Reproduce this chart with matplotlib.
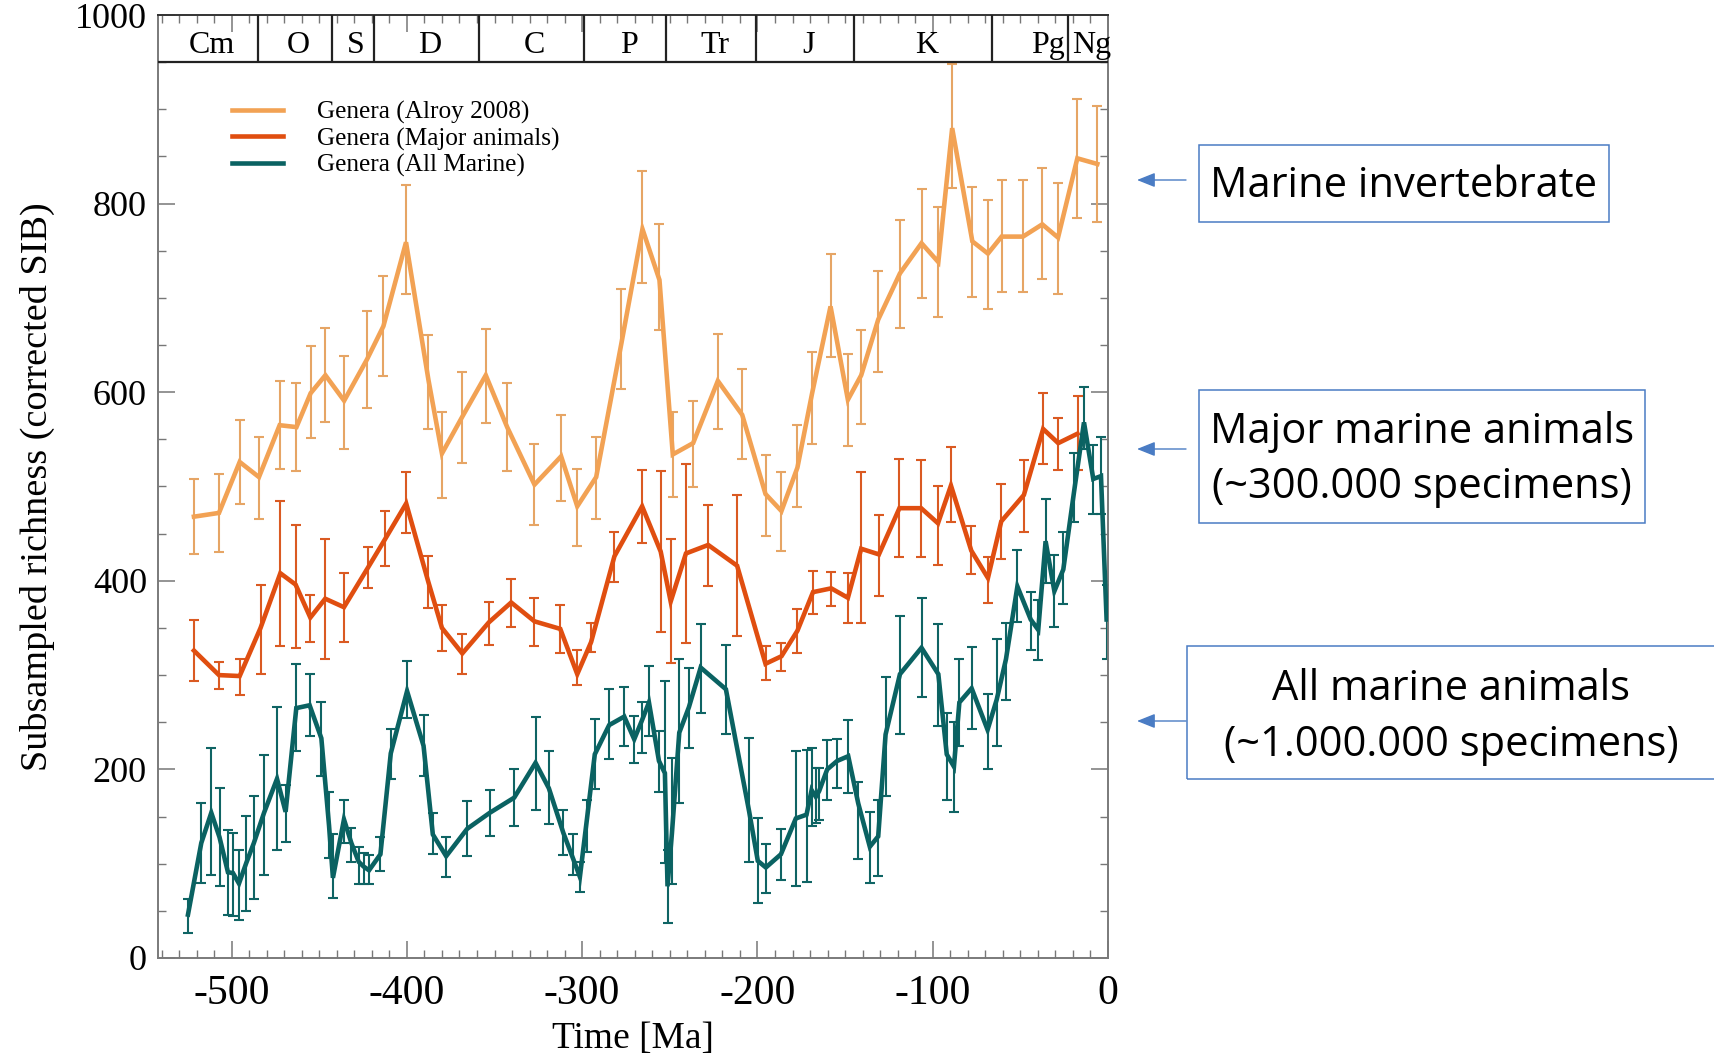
import numpy as np
import matplotlib
matplotlib.use('Agg')
import matplotlib.pyplot as plt
from matplotlib.patches import Rectangle, FancyArrowPatch
from matplotlib.ticker import MultipleLocator

plt.rcParams['font.family'] = ['Liberation Serif', 'DejaVu Serif']
plt.rcParams['axes.unicode_minus'] = False

# --- data (time in Ma, richness) ---
# Genera (Alroy 2008)
alroy_t  = [-521.5, -507.2, -495.4, -484.4, -472.6, -463.0, -454.9, -446.5, -435.8, -422.7,
            -413.4, -400.5, -387.7, -380.0, -368.4, -355.0, -342.8, -327.2, -312.0, -302.8,
            -292.0, -277.6, -265.6, -255.9, -248.3, -236.7, -222.6, -208.7, -195.4, -186.3,
            -177.2, -168.8, -158.3, -148.4, -140.8, -131.1, -118.7, -106.4, -96.8, -88.9,
            -77.4, -68.5, -60.7, -48.5, -37.5, -28.5, -17.5, -6.1]
alroy_y  = [468, 472, 526, 510, 565, 563, 599, 618, 591, 635,
            670, 759, 613, 535, 574, 618, 563, 502, 532, 479,
            510, 652, 773, 719, 534, 546, 612, 576, 492, 474,
            520, 599, 691, 592, 618, 677, 726, 758, 738, 880,
            760, 747, 765, 765, 778, 764, 848, 842]
alroy_lo = [428, 431, 481, 466, 519, 516, 551, 568, 540, 583,
            617, 704, 561, 488, 525, 567, 516, 459, 485, 437,
            466, 603, 716, 666, 489, 499, 561, 529, 448, 432,
            478, 545, 637, 543, 566, 621, 668, 700, 680, 817,
            701, 688, 706, 706, 720, 704, 785, 780]
alroy_hi = [508, 513, 571, 552, 612, 610, 649, 668, 638, 686,
            723, 820, 661, 579, 621, 667, 610, 545, 576, 519,
            552, 709, 835, 778, 579, 591, 662, 625, 533, 515,
            565, 643, 747, 640, 666, 729, 783, 816, 796, 948,
            818, 804, 825, 825, 838, 822, 911, 904]

# Genera (Major animals)
major_t  = [-521.5, -507.2, -495.4, -483.5, -472.2, -463.5, -455.1, -446.6, -435.9, -422.2,
            -412.5, -400.4, -387.8, -380.0, -368.4, -353.2, -340.5, -327.2, -312.5, -302.8,
            -294.9, -281.6, -265.8, -255.2, -249.5, -240.8, -228.1, -211.6, -195.4, -186.3,
            -177.2, -168.3, -157.9, -148.4, -140.8, -130.7, -119.0, -106.6, -97.0, -89.6,
            -78.0, -68.5, -60.9, -48.0, -37.0, -28.4, -17.4]
major_y  = [326, 300, 299, 350, 408, 396, 361, 381, 372, 414,
            444, 482, 399, 350, 323, 356, 377, 357, 349, 301,
            335, 426, 479, 431, 378, 429, 438, 416, 312, 320,
            347, 388, 392, 382, 434, 428, 477, 477, 461, 501,
            432, 403, 463, 491, 561, 546, 556]
major_lo = [294, 285, 279, 301, 331, 329, 335, 317, 335, 392,
            416, 451, 371, 326, 301, 332, 351, 331, 323, 290,
            324, 399, 440, 346, 313, 334, 394, 341, 295, 304,
            323, 365, 373, 355, 355, 384, 425, 425, 417, 462,
            407, 376, 423, 452, 524, 518, 517]
major_hi = [358, 314, 317, 396, 485, 459, 385, 444, 408, 436,
            474, 515, 426, 374, 344, 378, 402, 382, 374, 327,
            355, 452, 518, 516, 444, 524, 480, 491, 331, 334,
            370, 410, 409, 408, 515, 470, 529, 528, 501, 542,
            458, 425, 503, 528, 599, 573, 596]

# Genera (All Marine)
marine_t  = [-524.9, -517.3, -511.6, -506.9, -502.1, -499.2, -495.8, -491.6, -487.3, -481.5,
             -474.1, -469.2, -463.1, -455.5, -448.8, -444.4, -442.2, -435.9, -431.7, -427.5,
             -424.7, -421.6, -415.1, -409.2, -399.9, -390.5, -385.2, -377.6, -365.6, -352.7,
             -338.8, -326.6, -319.0, -310.8, -305.1, -301.3, -297.1, -292.8, -284.6, -276.0,
             -270.3, -266.1, -261.9, -256.2, -252.8, -251.3, -248.8, -244.6, -239.1, -232.4,
             -218.0, -204.7, -199.8, -195.2, -186.6, -178.1, -172.0, -169.1, -166.7, -164.8,
             -160.2, -154.5, -148.2, -142.5, -135.9, -131.1, -126.9, -118.7, -106.4, -96.8,
             -92.0, -87.9, -84.8, -77.8, -68.7, -63.5, -58.2, -51.7, -44.1, -39.8,
             -35.6, -30.6, -25.5, -19.4, -13.7, -8.4, -4.0, -0.8]
marine_y  = [46, 122, 154, 128, 91, 90, 79, 101, 122, 154,
             190, 155, 265, 268, 233, 140, 85, 147, 122, 102,
             97, 93, 110, 217, 283, 225, 131, 108, 137, 154,
             170, 207, 180, 133, 105, 86, 150, 216, 247, 256,
             232, 251, 271, 209, 196, 76, 132, 239, 266, 308,
             285, 155, 103, 96, 110, 148, 152, 178, 171, 177,
             200, 209, 214, 164, 118, 129, 237, 301, 329, 301,
             216, 203, 271, 286, 242, 274, 317, 394, 359, 348,
             442, 389, 412, 494, 568, 508, 511, 359]
marine_lo = [26, 80, 88, 76, 46, 45, 40, 50, 63, 88,
             115, 123, 219, 235, 193, 106, 64, 122, 102, 79,
             78, 78, 92, 190, 254, 193, 110, 86, 108, 129,
             140, 157, 142, 109, 88, 70, 112, 179, 211, 225,
             207, 217, 235, 176, 101, 37, 79, 164, 223, 260,
             238, 102, 58, 69, 83, 76, 81, 140, 143, 146,
             168, 180, 175, 105, 80, 87, 172, 238, 277, 246,
             168, 155, 225, 243, 200, 225, 274, 356, 327, 316,
             398, 351, 375, 462, 540, 471, 471, 317]
marine_hi = [63, 164, 223, 180, 136, 133, 115, 151, 172, 215,
             266, 183, 312, 301, 272, 176, 132, 168, 138, 118,
             111, 109, 128, 243, 315, 258, 154, 128, 166, 178,
             200, 256, 220, 157, 131, 102, 168, 253, 285, 287,
             257, 271, 310, 241, 294, 115, 212, 317, 308, 354,
             332, 233, 148, 121, 137, 219, 221, 223, 201, 201,
             231, 232, 252, 187, 155, 168, 298, 363, 382, 354,
             260, 250, 317, 330, 280, 338, 355, 433, 388, 380,
             487, 427, 452, 536, 606, 544, 552, 396]

# geological periods (boundaries in Ma) and their labels
period_edges = [-541, -485, -443, -419, -359, -299, -252, -201, -145, -66, -23, 0]
period_names = ['Cm', 'O', 'S', 'D', 'C', 'P', 'Tr', 'J', 'K', 'Pg', 'Ng']

series = [
    ('Genera (Alroy 2008)', alroy_t, alroy_y, alroy_lo, alroy_hi, '#F2A254', '#E6A565'),
    ('Genera (Major animals)', major_t, major_y, major_lo, major_hi, '#E04E10', '#DA5A22'),
    ('Genera (All Marine)', marine_t, marine_y, marine_lo, marine_hi, '#0A6262', '#0F6464'),
]

W, H = 1714, 1057
fig = plt.figure(figsize=(W / 100, H / 100), dpi=100)
ax = fig.add_axes([158 / W, 1 - 958 / H, 950 / W, 943 / H])

for name, t, y, lo, hi, c, ec in series:
    t = np.array(t); y = np.array(y); lo = np.array(lo); hi = np.array(hi)
    ax.errorbar(t, y, yerr=[y - lo, hi - y], fmt='none', ecolor=ec,
                elinewidth=1.5, capsize=3.3, capthick=1.5, zorder=2)
    ax.plot(t, y, color=c, lw=3.3, label=name, zorder=3, solid_joinstyle='miter')

ax.set_xlim(-542, 0)
ax.set_ylim(0, 1000)

# period band at the top
ax.axhline(950, color='#222222', lw=1.6, zorder=4)
ax.vlines(period_edges[1:-1], 950, 1000, color='#222222', lw=1.6, zorder=4)
for i, nm in enumerate(period_names):
    mid = 0.5 * (period_edges[i] + period_edges[i + 1])
    if nm == 'Pg':
        mid = -36
    ax.text(mid + 2, 968, nm, ha='center', va='center', fontsize=23, zorder=5)

ax.xaxis.set_major_locator(MultipleLocator(100))
ax.xaxis.set_minor_locator(MultipleLocator(10))
ax.yaxis.set_major_locator(MultipleLocator(200))
ax.yaxis.set_minor_locator(MultipleLocator(50))
ax.tick_params(which='both', direction='in', top=True, right=True, color='#777777')
ax.tick_params(which='major', length=12, width=1.1)
ax.tick_params(which='minor', length=6, width=1.0)
ax.tick_params(axis='x', labelsize=30, pad=12)
ax.tick_params(axis='y', labelsize=26, pad=8)
for s in ax.spines.values():
    s.set_color('#7a7a7a')
    s.set_linewidth(1.4)
ax.spines['top'].set_color('#333333')

ax.set_xlabel('Time [Ma]', fontsize=27, labelpad=6)
ax.set_ylabel('Subsampled richness (corrected SIB)', fontsize=27.5, labelpad=14)

ax.legend(loc='upper left', bbox_to_anchor=(0.078, 0.909), frameon=False,
          fontsize=18.2, handlelength=2.0, handletextpad=1.35, labelspacing=0.14,
          borderpad=0, borderaxespad=0)

# annotation boxes on the right (figure pixel positions, y from top)
blue = '#4A7CC4'
def fx(x): return x / W
def fy(y): return 1 - y / H

boxes = [
    (1199, 145, 1609, 222, ['Marine invertebrate'], [186]),
    (1199, 390, 1645, 523, ['Major marine animals', '(~300.000 specimens)'], [432, 487]),
    (1187, 646, 1720, 779, ['All marine animals', '(~1.000.000 specimens)'], [689, 745]),
]
arrow_y = [180, 449, 721]

for (x0, y0, x1, y1, lines, ly), ay in zip(boxes, arrow_y):
    fig.add_artist(Rectangle((fx(x0), fy(y1)), fx(x1) - fx(x0), fy(y0) - fy(y1),
                             transform=fig.transFigure, fill=False, ec=blue, lw=1.1))
    cx = 0.5 * (x0 + min(x1, 1716))
    for txt, yy in zip(lines, ly):
        fig.text(fx(cx), fy(yy), txt, ha='center', va='center',
                 fontsize=30, family=['Open Sans', 'DejaVu Sans'])
    fig.add_artist(FancyArrowPatch((fx(1186), fy(ay)), (fx(1137), fy(ay)),
                                   transform=fig.transFigure,
                                   arrowstyle='-|>,head_length=0.55,head_width=0.22',
                                   mutation_scale=20, color=blue, lw=1.0,
                                   shrinkA=0, shrinkB=0))

fig.savefig('out.png', dpi=100)
